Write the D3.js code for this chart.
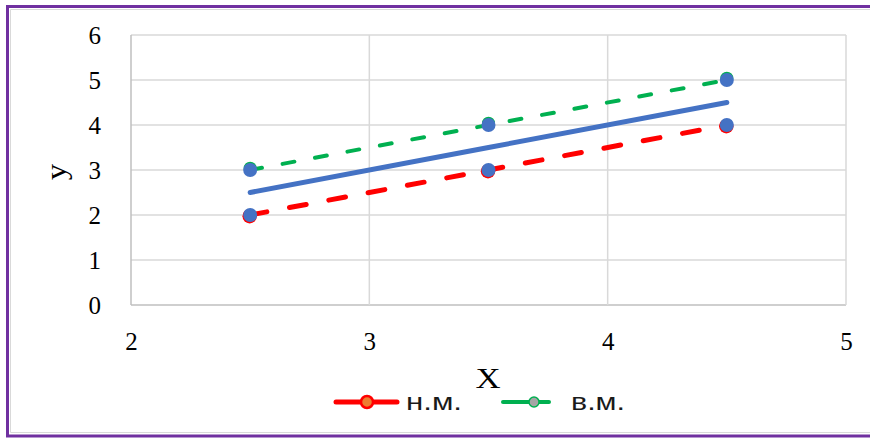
<!DOCTYPE html>
<html>
<head>
<meta charset="utf-8">
<script src="https://cdn.jsdelivr.net/npm/d3@7"></script>
<style>
  html, body { margin: 0; padding: 0; background: #fff; }
  svg { display: block; }
</style>
</head>
<body>
<svg id="chart" width="870" height="439"></svg>
<script>
// Lower bound (н.м.), upper bound (в.м.) and the centre line between them
const xValues = [2.5, 3.5, 4.5];
const lowerY = [2, 3, 4];
const upperY = [3, 4, 5];
const centreY = [2.5, 3.5, 4.5];
const xTicks = [2, 3, 4, 5];
const yTicks = [0, 1, 2, 3, 4, 5, 6];
const seriesNames = ["н.м.", "в.м."];

const svg = d3.select("#chart");
const W = 870, H = 439;
const plot = { left: 131, right: 846, top: 35, bottom: 305 };

const x = d3.scaleLinear().domain([2, 5]).range([plot.left, plot.right]);
const y = d3.scaleLinear().domain([0, 6]).range([plot.bottom, plot.top]);

// outer frame
svg.append("path").attr("d", `M${W},9.5 H10.5 V432.5 H${W}`)
  .attr("fill", "none").attr("stroke", "#d9d9d9").attr("stroke-width", 1);
svg.append("path")
  .attr("d", `M${W},6.5 H7.5 V436 H${W}`)
  .attr("fill", "none").attr("stroke", "#7030a0").attr("stroke-width", 3);

// gridlines
const g = svg.append("g");
g.selectAll("line.hg").data(yTicks).join("line")
  .attr("x1", plot.left).attr("x2", plot.right)
  .attr("y1", d => y(d)).attr("y2", d => y(d))
  .attr("stroke", d => d === 0 ? "#bfbfbf" : "#d9d9d9").attr("stroke-width", 1.5);
g.selectAll("line.vg").data(xTicks).join("line")
  .attr("y1", plot.top).attr("y2", plot.bottom)
  .attr("x1", d => x(d)).attr("x2", d => x(d))
  .attr("stroke", d => d === 2 ? "#bfbfbf" : "#d9d9d9").attr("stroke-width", 1.5);

// tick labels
const tickFont = "'Liberation Serif', 'Times New Roman', serif";
const yAxis = d3.axisLeft(y).tickValues(yTicks).tickFormat(d3.format("d")).tickSize(0).tickPadding(0);
const ya = svg.append("g").attr("transform", `translate(101,0)`).call(yAxis);
ya.select(".domain").remove();
ya.selectAll("text").attr("font-family", tickFont).attr("font-size", 25).attr("fill", "#000");

const xAxis = d3.axisBottom(x).tickValues(xTicks).tickFormat(d3.format("d")).tickSize(0).tickPadding(0);
const xa = svg.append("g").attr("transform", `translate(0,332)`).call(xAxis);
xa.select(".domain").remove();
xa.selectAll("text").attr("font-family", tickFont).attr("font-size", 25).attr("fill", "#000");

// axis titles
svg.append("text").attr("transform", "translate(66,172) rotate(-90) scale(1.1,1)")
  .attr("text-anchor", "middle").attr("font-family", tickFont).attr("font-size", 30)
  .text("y");
svg.append("text").attr("transform", "translate(488,388) scale(1.2,1)")
  .attr("text-anchor", "middle").attr("font-family", tickFont).attr("font-size", 29)
  .text("X");

// lines
const pts = ys => xValues.map((xv, i) => [xv, ys[i]]);
const line = d3.line().x(d => x(d[0])).y(d => y(d[1]));

svg.append("path").datum(pts(centreY)).attr("d", line)
  .attr("fill", "none").attr("stroke", "#4472c4").attr("stroke-width", 5)
  .attr("stroke-linecap", "round");

svg.append("path").datum(pts(upperY)).attr("d", line)
  .attr("fill", "none").attr("stroke", "#00b050").attr("stroke-width", 4)
  .attr("stroke-dasharray", "12,21").attr("stroke-linecap", "round");

svg.append("path").datum(pts(lowerY)).attr("d", line)
  .attr("fill", "none").attr("stroke", "#ff0000").attr("stroke-width", 5)
  .attr("stroke-dasharray", "17,23").attr("stroke-linecap", "round");

// markers: series markers under the blue data points
svg.selectAll("circle.lo").data(pts(lowerY)).join("circle")
  .attr("cx", d => x(d[0]) - 0.5).attr("cy", d => y(d[1]) + 1.2).attr("r", 7.2)
  .attr("fill", "#ff0000");
svg.selectAll("circle.up").data(pts(upperY)).join("circle")
  .attr("cx", d => x(d[0])).attr("cy", d => y(d[1]) - 1.8).attr("r", 6.5)
  .attr("fill", "#00b050");
svg.selectAll("circle.pt").data(pts(lowerY).concat(pts(upperY))).join("circle")
  .attr("cx", d => x(d[0])).attr("cy", d => y(d[1])).attr("r", 7)
  .attr("fill", "#4472c4");

// legend
const legFont = "'Liberation Sans', Arial, sans-serif";
const leg = svg.append("g");
leg.append("line").attr("x1", 336).attr("x2", 397).attr("y1", 402).attr("y2", 402)
  .attr("stroke", "#ff0000").attr("stroke-width", 5).attr("stroke-linecap", "round");
leg.append("circle").attr("cx", 367).attr("cy", 402).attr("r", 6)
  .attr("fill", "#ed7d31").attr("stroke", "#ff0000").attr("stroke-width", 2.5);
leg.append("text").attr("x", 406).attr("y", 410).attr("font-family", legFont)
  .attr("font-size", 23).attr("textLength", 56).attr("lengthAdjust", "spacingAndGlyphs")
  .attr("fill", "#1a1a1a").text(seriesNames[0]);

leg.append("line").attr("x1", 503).attr("x2", 549).attr("y1", 402).attr("y2", 402)
  .attr("stroke", "#00b050").attr("stroke-width", 4).attr("stroke-linecap", "round");
leg.append("circle").attr("cx", 534).attr("cy", 402).attr("r", 5)
  .attr("fill", "#a5a5a5").attr("stroke", "#00b050").attr("stroke-width", 1.5);
leg.append("text").attr("x", 571).attr("y", 410).attr("font-family", legFont)
  .attr("font-size", 23).attr("textLength", 54).attr("lengthAdjust", "spacingAndGlyphs")
  .attr("fill", "#1a1a1a").text(seriesNames[1]);
</script>
</body>
</html>
